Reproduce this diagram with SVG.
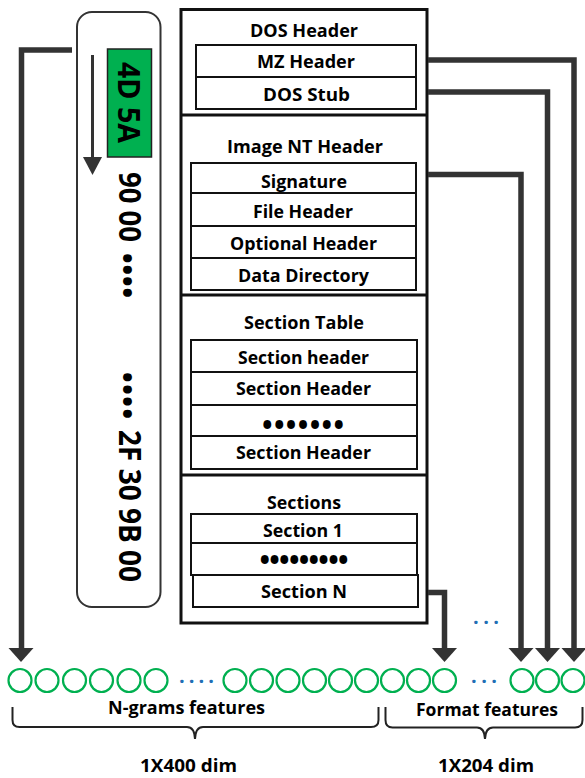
<svg xmlns="http://www.w3.org/2000/svg" width="585" height="778" viewBox="0 0 585 778">
  <defs>
    <style>
      .lbl { font-family: "Open Sans", "Noto Sans", "DejaVu Sans", sans-serif; font-weight: bold; fill: #000; text-anchor: middle; }
      .f17 { font-size: 17px; }
      .f18 { font-size: 18px; }
      .bul { font-family: "Open Sans", "Noto Sans", "DejaVu Sans", sans-serif; font-weight: bold; font-size: 28px; fill: #000; }
      .hex { font-family: "Open Sans", "Noto Sans", "DejaVu Sans", sans-serif; font-weight: bold; font-size: 31px; fill: #000; }
      .frame { fill: #fff; stroke: #111; stroke-width: 3; }
      .divider { stroke: #111; stroke-width: 3; }
      .row { fill: #fff; stroke: #111; stroke-width: 2; }
      .conn { fill: none; stroke: #333; stroke-width: 5.5; stroke-linejoin: miter; }
      .head { fill: #333; }
      .cell { fill: none; stroke: #00b050; stroke-width: 2.2; }
      .dots { font-family: "Open Sans", "Noto Sans", sans-serif; font-weight: bold; font-size: 20px; fill: #1f6fb5; }
      .brace { fill: none; stroke: #222; stroke-width: 2; }
    </style>
  </defs>

  <!-- byte stream column -->
  <g id="byte-stream">
    <rect x="77" y="12" width="83.5" height="595" rx="15" ry="15" fill="#fff" stroke="#333" stroke-width="2"/>
    <rect x="107.5" y="49" width="44" height="108" fill="#00b050" stroke="#222" stroke-width="1.5"/>
    <line x1="92.5" y1="55" x2="92.5" y2="160" stroke="#333" stroke-width="3"/>
    <polygon points="83,157 102,157 92.5,175" fill="#333"/>
    <text class="hex" transform="translate(117.5,62) rotate(90)" textLength="81" lengthAdjust="spacingAndGlyphs">4D 5A</text>
    <text class="hex" transform="translate(118.5,172) rotate(90)" textLength="70" lengthAdjust="spacingAndGlyphs">90 00</text>
    <text class="bul" transform="translate(116.5,253) rotate(90)" textLength="45" lengthAdjust="spacing">••••</text>
    <text class="bul" transform="translate(116.5,372) rotate(90)" textLength="47" lengthAdjust="spacing">••••</text>
    <text class="hex" transform="translate(119,430) rotate(90)" textLength="152" lengthAdjust="spacingAndGlyphs">2F 30 9B 00</text>
  </g>

  <!-- PE file layout -->
  <g id="pe-frame">
    <rect class="frame" x="181" y="9.5" width="246" height="613.5"/>
    <line class="divider" x1="181" y1="115" x2="427" y2="115"/>
    <line class="divider" x1="181" y1="295" x2="427" y2="295"/>
    <line class="divider" x1="181" y1="475" x2="427" y2="475"/>
  </g>

  <g id="dos-header">
    <text class="lbl f17" x="304" y="37" textLength="108" lengthAdjust="spacingAndGlyphs">DOS Header</text>
    <rect class="row" x="196" y="45" width="220" height="32"/>
    <rect class="row" x="196" y="77" width="220" height="32"/>
    <text class="lbl f17" x="306" y="68" textLength="98" lengthAdjust="spacingAndGlyphs">MZ Header</text>
    <text class="lbl f17" x="306.5" y="100.5" textLength="87" lengthAdjust="spacingAndGlyphs">DOS Stub</text>
  </g>

  <g id="nt-header">
    <text class="lbl f17" x="305" y="153" textLength="156" lengthAdjust="spacingAndGlyphs">Image NT Header</text>
    <rect class="row" x="191" y="163" width="225" height="30"/>
    <rect class="row" x="191" y="193" width="225" height="33"/>
    <rect class="row" x="191" y="226" width="225" height="32"/>
    <rect class="row" x="191" y="258" width="225" height="32"/>
    <text class="lbl f17" x="304" y="188" textLength="86" lengthAdjust="spacingAndGlyphs">Signature</text>
    <text class="lbl f17" x="303" y="217.5" textLength="100" lengthAdjust="spacingAndGlyphs">File Header</text>
    <text class="lbl f17" x="303.5" y="249.5" textLength="147" lengthAdjust="spacingAndGlyphs">Optional Header</text>
    <text class="lbl f17" x="303.5" y="282" textLength="131" lengthAdjust="spacingAndGlyphs">Data Directory</text>
  </g>

  <g id="section-table">
    <text class="lbl f17" x="304" y="329" textLength="120" lengthAdjust="spacingAndGlyphs">Section Table</text>
    <rect class="row" x="191" y="340" width="226" height="32"/>
    <rect class="row" x="191" y="372" width="226" height="33"/>
    <rect class="row" x="191" y="405" width="226" height="31"/>
    <rect class="row" x="191" y="436" width="226" height="33"/>
    <text class="lbl f17" x="303.5" y="364" textLength="131" lengthAdjust="spacingAndGlyphs">Section header</text>
    <text class="lbl f17" x="303.5" y="395" textLength="135" lengthAdjust="spacingAndGlyphs">Section Header</text>
    <text class="bul" x="262" y="435" textLength="82" lengthAdjust="spacing">•••••••</text>
    <text class="lbl f17" x="303.5" y="459" textLength="135" lengthAdjust="spacingAndGlyphs">Section Header</text>
  </g>

  <g id="sections">
    <text class="lbl f17" x="304" y="509" textLength="74" lengthAdjust="spacingAndGlyphs">Sections</text>
    <rect class="row" x="191" y="514" width="226" height="29"/>
    <rect class="row" x="191" y="543" width="226" height="32"/>
    <rect class="row" x="193" y="575" width="225" height="32"/>
    <text class="lbl f17" x="303" y="537" textLength="80" lengthAdjust="spacingAndGlyphs">Section 1</text>
    <text class="bul" x="259.5" y="570" font-size="22" textLength="89" lengthAdjust="spacing">•••••••••</text>
    <text class="lbl f17" x="304" y="598" textLength="86" lengthAdjust="spacingAndGlyphs">Section N</text>
  </g>

  <!-- connectors -->
  <g id="connectors">
    <path class="conn" d="M72,50 H21.5 V650"/>
    <polygon class="head" points="8.5,648 33.5,648 21,662"/>
    <path class="conn" d="M428,60 H574 V650"/>
    <polygon class="head" points="561.5,648 586.5,648 574,662"/>
    <path class="conn" d="M428,92 H547.5 V650"/>
    <polygon class="head" points="535,648 560,648 547.5,662"/>
    <path class="conn" d="M428,174.5 H521 V650"/>
    <polygon class="head" points="508.5,648 533.5,648 521,662"/>
    <path class="conn" d="M428,592.5 H444.5 V650"/>
    <polygon class="head" points="432,648 457,648 444.5,662"/>
  </g>

  <!-- feature vector -->
  <g id="feature-vector">
    <circle class="cell" cx="20" cy="680.5" r="11.5"/>
    <circle class="cell" cx="47" cy="680.5" r="11.5"/>
    <circle class="cell" cx="74.5" cy="680.5" r="11.5"/>
    <circle class="cell" cx="101.5" cy="680.5" r="11.5"/>
    <circle class="cell" cx="129" cy="680.5" r="11.5"/>
    <circle class="cell" cx="156" cy="680.5" r="11.5"/>
    <circle class="cell" cx="235" cy="680.5" r="11.5"/>
    <circle class="cell" cx="261.5" cy="680.5" r="11.5"/>
    <circle class="cell" cx="288" cy="680.5" r="11.5"/>
    <circle class="cell" cx="314.5" cy="680.5" r="11.5"/>
    <circle class="cell" cx="340.5" cy="680.5" r="11.5"/>
    <circle class="cell" cx="366.5" cy="680.5" r="11.5"/>
    <circle class="cell" cx="392.5" cy="680.5" r="11.5"/>
    <circle class="cell" cx="418.5" cy="680.5" r="11.5"/>
    <circle class="cell" cx="444.5" cy="680.5" r="11.5"/>
    <circle class="cell" cx="522" cy="680.5" r="11.5"/>
    <circle class="cell" cx="547.5" cy="680.5" r="11.5"/>
    <circle class="cell" cx="573" cy="680.5" r="11.5"/>
    <text class="dots" x="179" y="688" textLength="35" lengthAdjust="spacing">····</text>
    <text class="dots" x="471" y="688" textLength="26" lengthAdjust="spacing">···</text>
    <text class="dots" x="473" y="629" textLength="26" lengthAdjust="spacing">···</text>
  </g>

  <!-- grouping braces and labels -->
  <g id="ngram-group">
    <path class="brace" d="M12.5,707 V720 Q12.5,727 19.5,727 H187 Q194.5,727 195,739 Q195.5,727 203,727 H371 Q378.5,727 378.5,720 V707"/>
    <text class="lbl f18" x="186.5" y="714" textLength="157" lengthAdjust="spacingAndGlyphs">N-grams features</text>
    <text class="lbl f18" x="188.5" y="772" textLength="97" lengthAdjust="spacingAndGlyphs">1X400 dim</text>
  </g>

  <g id="format-group">
    <path class="brace" d="M385.5,707 V720 Q385.5,727.5 392.5,727.5 H477 Q484.5,727.5 485,739 Q485.5,727.5 493,727.5 H575 Q582.5,727.5 582.5,720 V707"/>
    <text class="lbl f18" x="487" y="716" textLength="142" lengthAdjust="spacingAndGlyphs">Format features</text>
    <text class="lbl f18" x="486" y="772" textLength="96" lengthAdjust="spacingAndGlyphs">1X204 dim</text>
  </g>
</svg>
